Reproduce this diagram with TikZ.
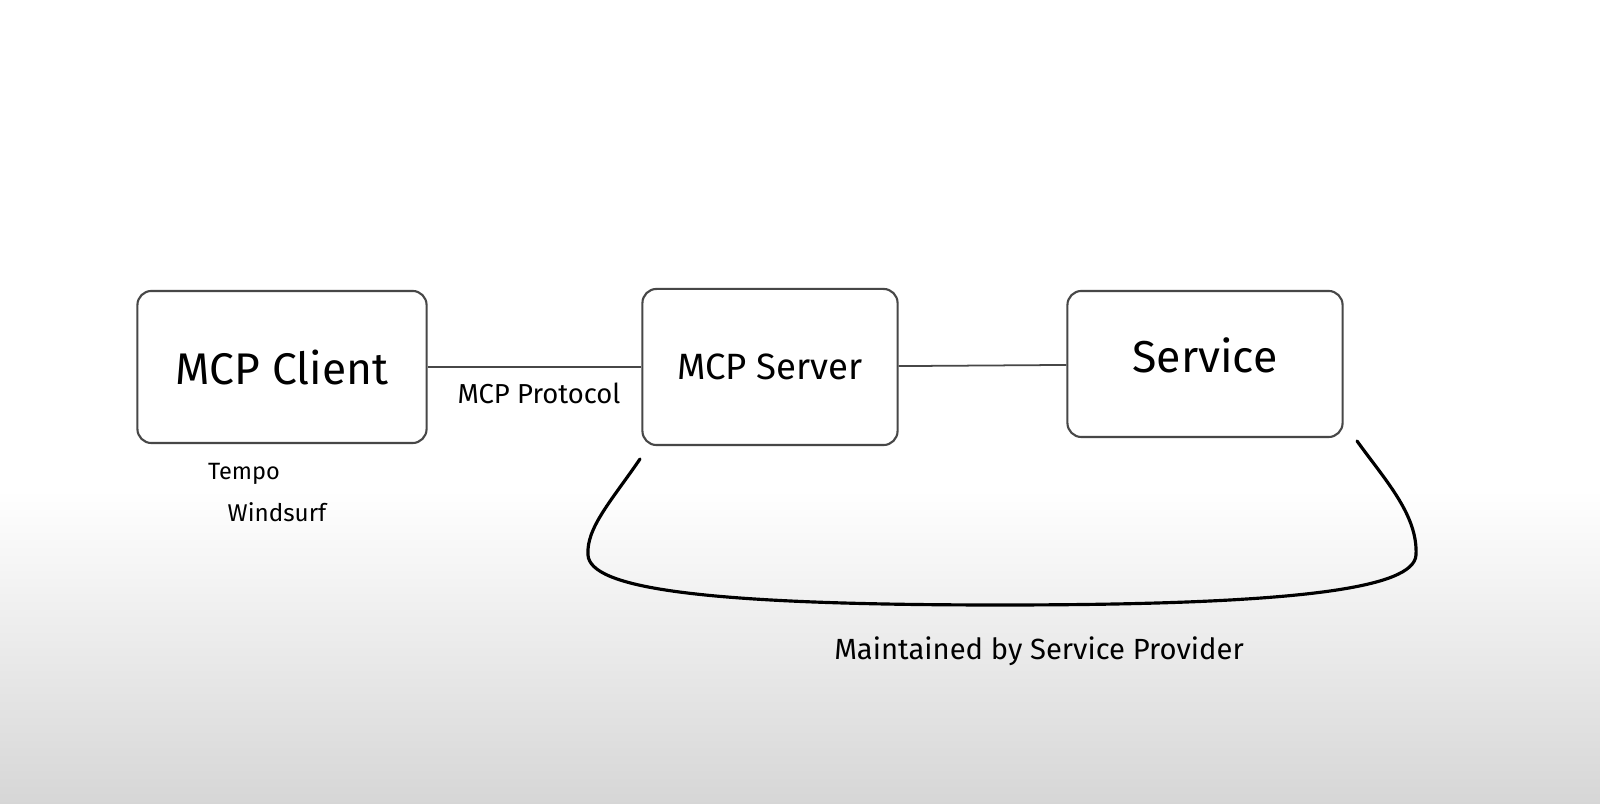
\documentclass[tikz,border=0pt]{standalone}
\usepackage{fontspec}
\setmainfont{Fira Sans}
\tikzset{
  box/.style={draw=black!72, line width=0.6pt, rounded corners=4pt},
  link/.style={draw=black!72, line width=0.5pt},
  brace/.style={draw=black, line width=0.9pt, line cap=round},
}
\begin{document}
\begin{tikzpicture}[x=0.01cm,y=-0.01cm]
        %% background
        \fill[white] (0,0) rectangle (1600,491);
        \shade[top color=white,bottom color=black!16] (0,490) rectangle (1600,804);
        \useasboundingbox (0,0) rectangle (1600,804);
        %% boxes
        \node[box,minimum width=2.89cm,minimum height=1.52cm,font=\fontsize{12.6}{15}\selectfont] (client) at (282,367) {MCP Client};
        \node[box,minimum width=2.55cm,minimum height=1.56cm,font=\fontsize{10.4}{12}\selectfont] (server) at (770,367) {MCP Server};
        \node[box,minimum width=2.75cm,minimum height=1.46cm] (service) at (1205,364) {};
        \node[font=\fontsize{12.7}{14}\selectfont] (servicetext) at (1205,355) {Service};
        %% links
        \draw[link] (client) -- (server);
        \draw[link] (server) -- (service);
        %% labels
        \node[font=\fontsize{7.8}{9}\selectfont] (protocol) at (539,393) {MCP Protocol};
        \node[font=\fontsize{6.7}{8}\selectfont] (tempo) at (244,474) {Tempo};
        \node[font=\fontsize{6.9}{8}\selectfont] (windsurf) at (277,512) {Windsurf};
        %% bracket under server and service
        \coordinate (bl) at (640,459);
        \coordinate (br) at (1357,441);
        \draw[brace] (bl) .. controls (612,500) and (586,528) .. (588,555)
          .. controls (590,588) and (700,605) .. (1000,605)
          .. controls (1300,605) and (1414,588) .. (1416,555)
          .. controls (1418,515) and (1385,480) .. (br);
        \node[font=\fontsize{8.3}{10}\selectfont] (provider) at (1039,651) {Maintained by Service Provider};
    \end{tikzpicture}
\end{document}
